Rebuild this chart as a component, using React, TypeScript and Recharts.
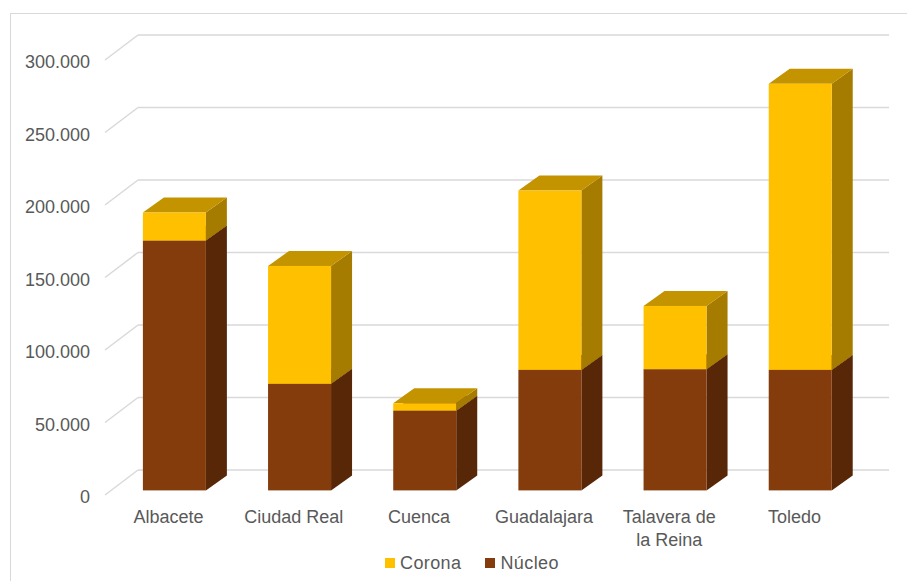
import { BarChart, Bar, XAxis, YAxis, CartesianGrid, Legend } from "recharts";

const categories = ["Albacete", "Ciudad Real", "Cuenca", "Guadalajara", "Talavera de la Reina", "Toledo"];
const nucleo = [172300, 73500, 55000, 83100, 83600, 83100];
const corona = [19300, 81300, 5100, 123700, 43600, 197300];
const yTicks = [0, 50000, 100000, 150000, 200000, 250000, 300000];

const data = categories.map((name, i) => ({ name, nucleo: nucleo[i], corona: corona[i] }));

const palette = {
  corona: { front: "#FFC000", top: "#C49300", side: "#A67C00" },
  nucleo: { front: "#843C0C", top: "#6A300A", side: "#572708" },
  grid: "#D9D9D9",
  text: "#595959",
};

const font = "'Liberation Sans', Arial, sans-serif";
// oblique depth of the floor / wall and of the boxes
const WALL_DX = 33;
const WALL_DY = -25;
const BAR_OX = 6.6;
const BAR_OY = -4.6;
const DX = 21;
const DY = -15;

const fmt = (v: number) => String(v).replace(/\B(?=(\d{3})+(?!\d))/g, ".");

let ctx: CanvasRenderingContext2D | null = null;
function measure(s: string) {
  if (!ctx) {
    ctx = document.createElement("canvas").getContext("2d");
    if (ctx) ctx.font = `18px ${font}`;
  }
  return ctx ? ctx.measureText(s).width : s.length * 9;
}

function wrap(label: string, max: number) {
  const lines: string[] = [];
  let cur = "";
  for (const w of label.split(" ")) {
    const next = cur ? `${cur} ${w}` : w;
    if (cur && measure(next) > max) {
      lines.push(cur);
      cur = w;
    } else cur = next;
  }
  if (cur) lines.push(cur);
  return lines;
}

function box(colors: { front: string; top: string; side: string }) {
  return (props: any) => {
    const { x, y, width, height } = props;
    if (!height || height <= 0) return <g />;
    const fx = x + BAR_OX;
    const fy = y + BAR_OY;
    const side = `${fx + width},${fy} ${fx + width + DX},${fy + DY} ${fx + width + DX},${fy + height + DY} ${fx + width},${fy + height}`;
    const top = `${fx},${fy} ${fx + DX},${fy + DY} ${fx + width + DX},${fy + DY} ${fx + width},${fy}`;
    return (
      <g>
        <polygon points={side} fill={colors.side} />
        <polygon points={top} fill={colors.top} />
        <rect x={fx} y={fy} width={width} height={height} fill={colors.front} />
      </g>
    );
  };
}

const gridLine = (props: any) => {
  const { x1, x2, y1, key } = props;
  return (
    <g key={key}>
      <line x1={x1} y1={y1} x2={x1 + WALL_DX} y2={y1 + WALL_DY} stroke={palette.grid} strokeWidth={1.5} />
      <line x1={x1 + WALL_DX} y1={y1 + WALL_DY} x2={x2 + WALL_DX} y2={y1 + WALL_DY} stroke={palette.grid} strokeWidth={1.5} />
    </g>
  );
};

const YTick = (props: any) => {
  const { y, payload } = props;
  return (
    <text x={90} y={y + 2} textAnchor="end" dominantBaseline="central" fill={palette.text} fontSize={18} fontFamily={font}>
      {fmt(payload.value)}
    </text>
  );
};

const XTick = (props: any) => {
  const { x, payload } = props;
  const lines = wrap(String(payload.value), 104);
  return (
    <text x={x + 1} y={523} textAnchor="middle" fill={palette.text} fontSize={18} fontFamily={font}>
      {lines.map((l, i) => (
        <tspan key={i} x={x + 1} dy={i === 0 ? 0 : 23}>
          {l}
        </tspan>
      ))}
    </text>
  );
};

const legendItems = [
  { label: "Corona", color: palette.corona.front },
  { label: "Núcleo", color: palette.nucleo.front },
];

const LegendContent = () => (
  <div style={{ display: "flex", paddingLeft: 385, height: 24, alignItems: "center", fontFamily: font, fontSize: 18, color: palette.text }}>
    {legendItems.map((r) => (
      <div key={r.label} style={{ display: "flex", alignItems: "center", marginRight: 24 }}>
        <span style={{ display: "inline-block", width: 10, height: 10, background: r.color, marginRight: 5 }} />
        <span style={{ letterSpacing: 0.4 }}>{r.label}</span>
      </div>
    ))}
  </div>
);

export default function App() {
  return (
    <div style={{ position: "absolute", left: 0, top: 0, width: 907, height: 581, overflow: "hidden", background: "#fff" }}>
      <div style={{ position: "absolute", left: 10, top: 13, width: 910, height: 590, borderLeft: `1.5px solid ${palette.grid}`, borderTop: `1.5px solid ${palette.grid}` }} />
      <BarChart
        width={907}
        height={581}
        data={data}
        margin={{ top: 60, right: 51, left: 10, bottom: 12 }}
        barCategoryGap="25%"
        style={{ position: "absolute", left: 0, top: 0 }}
      >
        <CartesianGrid vertical={false} horizontal={gridLine} />
        <XAxis dataKey="name" axisLine={false} tickLine={false} height={50} interval={0} tick={<XTick />} />
        <YAxis width={95} domain={[0, 300000]} ticks={yTicks} axisLine={false} tickLine={false} tick={<YTick />} />
        <Legend
          verticalAlign="bottom"
          content={<LegendContent />}
          wrapperStyle={{ top: 551, left: 0, width: 907, bottom: "auto" }}
        />
        <Bar dataKey="nucleo" name="Núcleo" stackId="a" fill={palette.nucleo.front} shape={box(palette.nucleo)} isAnimationActive={false} />
        <Bar dataKey="corona" name="Corona" stackId="a" fill={palette.corona.front} shape={box(palette.corona)} isAnimationActive={false} />
      </BarChart>
    </div>
  );
}
